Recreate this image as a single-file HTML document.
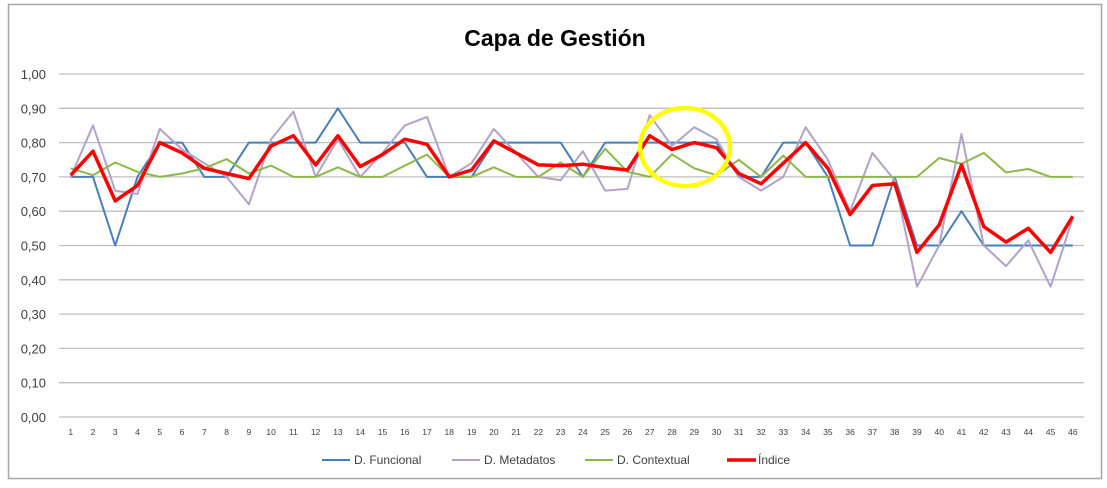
<!DOCTYPE html>
<html><head><meta charset="utf-8"><style>
body{margin:0;background:#fff;width:1107px;height:488px;overflow:hidden}
svg{display:block;font-family:"Liberation Sans",sans-serif}
</style></head><body>
<svg id="c" width="1107" height="488" xmlns="http://www.w3.org/2000/svg">
<rect x="0" y="0" width="1107" height="488" fill="#fff"/>
<rect x="8.5" y="4.5" width="1093" height="474" fill="#fff" stroke="#a6a6a6" stroke-width="1.5"/>
<text x="555" y="46" text-anchor="middle" font-size="23" font-weight="bold" fill="#000">Capa de Gestión</text>
<g id="grid"></g>
<g id="series"></g>
<ellipse cx="685" cy="147" rx="45" ry="39" fill="none" stroke="#ffff00" stroke-width="4.5"/>
<g font-size="12" fill="#404040">
<line x1="322" y1="460" x2="350" y2="460" stroke="#4a7ebb" stroke-width="2"/><text x="354" y="464">D. Funcional</text>
<line x1="452" y1="460" x2="480" y2="460" stroke="#b3a2c7" stroke-width="2"/><text x="484" y="464">D. Metadatos</text>
<line x1="585" y1="460" x2="613" y2="460" stroke="#8db849" stroke-width="2"/><text x="617" y="464">D. Contextual</text>
<line x1="727" y1="460" x2="756" y2="460" stroke="#ff0000" stroke-width="3.5"/><text x="758" y="464">Índice</text>
</g>
</svg>
<script>
var ns="http://www.w3.org/2000/svg";
function Y(v){return 417-v*343;}
function X(i){return 70.7+i*22.27;}
var g=document.getElementById('grid'),s=document.getElementById('series');
function el(p,t,a,txt){var e=document.createElementNS(ns,t);for(var k in a)e.setAttribute(k,a[k]);if(txt!=null)e.textContent=txt;p.appendChild(e);return e;}
for(var k=0;k<=10;k++){var y=Y(k/10);
el(g,'line',{x1:59,x2:1084,y1:y,y2:y,stroke:'#bfbfbf','stroke-width':1.3});
el(g,'text',{x:46,y:y+5,'text-anchor':'end','font-size':13,fill:'#404040'},(k/10).toFixed(2).replace('.',','));}
for(var i=0;i<46;i++)el(g,'text',{x:X(i),y:435,'text-anchor':'middle','font-size':8.5,fill:'#404040'},String(i+1));
var F=[.70,.70,.50,.70,.80,.80,.70,.70,.80,.80,.80,.80,.90,.80,.80,.80,.70,.70,.70,.80,.80,.80,.80,.70,.80,.80,.80,.80,.80,.80,.70,.70,.80,.80,.70,.50,.50,.70,.50,.50,.60,.50,.50,.50,.50,.50];
var M=[.70,.85,.66,.65,.84,.78,.74,.70,.62,.81,.89,.70,.81,.70,.77,.85,.875,.70,.74,.84,.77,.70,.69,.775,.66,.665,.88,.79,.845,.81,.70,.66,.70,.845,.75,.60,.77,.69,.38,.50,.825,.50,.44,.515,.38,.58];
var C=[.725,.705,.742,.715,.70,.71,.725,.752,.71,.733,.70,.70,.728,.70,.70,.733,.765,.70,.70,.728,.70,.70,.742,.70,.782,.715,.70,.766,.725,.705,.75,.70,.762,.70,.70,.70,.70,.70,.70,.755,.738,.77,.713,.723,.70,.70];
var I=[.705,.775,.63,.675,.80,.77,.725,.71,.695,.79,.82,.735,.82,.73,.765,.81,.795,.70,.72,.805,.77,.735,.733,.737,.727,.72,.82,.78,.80,.785,.71,.68,.74,.80,.725,.59,.675,.68,.48,.56,.735,.555,.51,.55,.48,.585];
function pl(d,c,w){el(s,'polyline',{points:d.map(function(v,i){return X(i).toFixed(1)+','+Y(v).toFixed(1)}).join(' '),fill:'none',stroke:c,'stroke-width':w,'stroke-linejoin':'round'});}
pl(F,'#4a7ebb',2);pl(M,'#b3a2c7',2);pl(C,'#8db849',2);pl(I,'#ff0000',3.5);
</script>
</body></html>
